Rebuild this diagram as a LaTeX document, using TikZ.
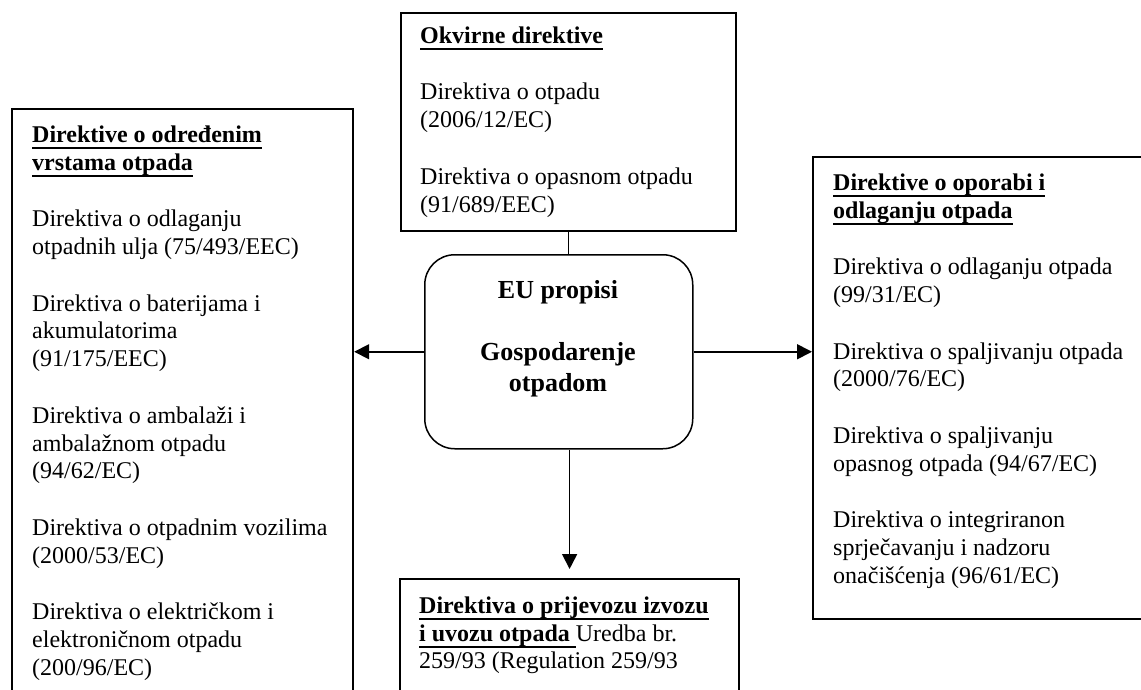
\documentclass[tikz,border=0pt]{standalone}
\usepackage{fontspec}
\setmainfont{Liberation Serif}
\usetikzlibrary{arrows.meta}
\newcommand\myul[1]{\setbox0\hbox{#1}\rlap{\rule[-7pt]{\wd0}{1.9pt}}\box0}
\newcommand\fl{\rule{0pt}{20pt}}
\begin{document}
\begin{tikzpicture}[x=1pt,y=-1pt,
  frame/.style={draw, line width=2.2pt, rectangle, inner sep=0pt, anchor=north west},
  txt/.style={anchor=north west, inner sep=0pt, align=left, font=\fontsize{24}{27.8}\selectfont},
  conn/.style={line width=1.7pt},
  arr/.style={conn, -{Triangle[length=15pt,width=15pt]}}]
\useasboundingbox (0,0) rectangle (1141,690);
\clip (0,0) rectangle (1141,690);
% boxes
\node[frame, minimum width=335pt, minimum height=218pt] (okv) at (400,12) {};
\node[frame, minimum width=341pt, minimum height=620pt] (left) at (11,108) {};
\node[frame, minimum width=360pt, minimum height=462pt] (right) at (812,156) {};
\node[frame, minimum width=339pt, minimum height=150pt] (bot) at (399,578) {};
\node[draw, line width=1.5pt, rounded corners=30pt, inner sep=0pt, anchor=north west,
      minimum width=268pt, minimum height=194pt] (eu) at (424,254) {};
% texts
\node[txt] (okvt) at (420,23) {\fl\textbf{\myul{Okvirne direktive}}\\[28.8pt]
  Direktiva o otpadu\\(2006/12/EC)\\[28.8pt]
  Direktiva o opasnom otpadu\\(91/689/EEC)};
\node[txt] (leftt) at (32,122) {\fl\textbf{\myul{Direktive o određenim}}\\\textbf{\myul{vrstama otpada}}\\[28.8pt]
  Direktiva o odlaganju\\otpadnih ulja (75/493/EEC)\\[28.8pt]
  Direktiva o baterijama i\\akumulatorima\\(91/175/EEC)\\[28.8pt]
  Direktiva o ambalaži i\\ambalažnom otpadu\\(94/62/EC)\\[28.8pt]
  Direktiva o otpadnim vozilima\\(2000/53/EC)\\[28.8pt]
  Direktiva o električkom i\\elektroničnom otpadu\\(200/96/EC)};
\node[txt] (rightt) at (833,170) {\fl\textbf{\myul{Direktive o oporabi i}}\\\textbf{\myul{odlaganju otpada}}\\[28.8pt]
  Direktiva o odlaganju otpada\\(99/31/EC)\\[28.8pt]
  Direktiva o spaljivanju otpada\\(2000/76/EC)\\[28.8pt]
  Direktiva o spaljivanju\\opasnog otpada (94/67/EC)\\[28.8pt]
  Direktiva o integriranon\\sprječavanju i nadzoru\\onačišćenja (96/61/EC)};
\node[txt] (bott) at (419,593) {\fl\textbf{\myul{Direktiva o prijevozu izvozu}}\\\textbf{\myul{i uvozu otpada }}Uredba br.\\259/93 (Regulation 259/93};
\node[anchor=north, inner sep=0pt, align=center, font=\bfseries\fontsize{26}{31}\selectfont] (eut) at (558,276)
  {\rule{0pt}{22pt}EU propisi\\[31pt]Gospodarenje\\otpadom};
% connectors
\draw[conn] (okv.south) -- (okv.south |- eu.north);
\draw[arr] (eu.west) -- (eu.west -| left.east);
\draw[arr] (eu.east) -- (eu.east -| right.west);
\draw[arr, shorten >=9pt] (bot.north |- eu.south) -- (bot.north);
\end{tikzpicture}
\end{document}
